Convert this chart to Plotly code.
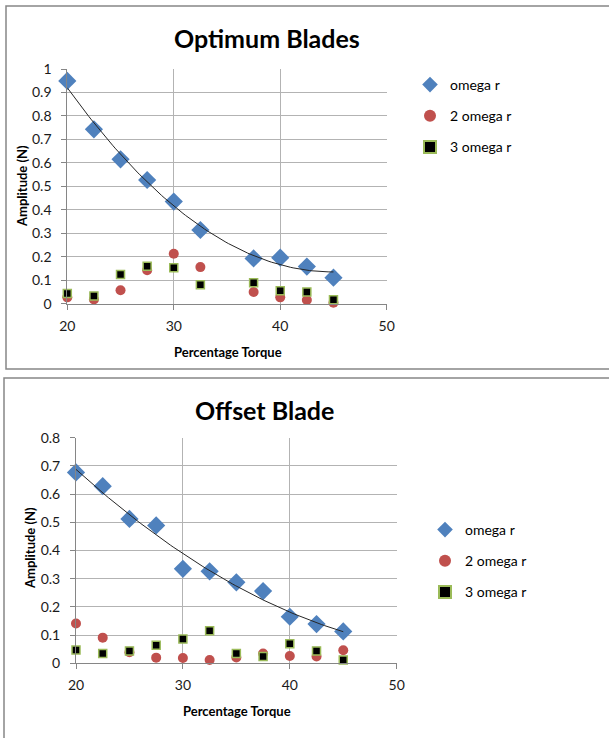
import numpy as np
import plotly.graph_objects as go

W, H = 609, 738

# ---- Data: Optimum Blades ----
opt_x = [20, 22.5, 25, 27.5, 30, 32.5, 37.5, 40, 42.5, 45]
opt_omega = [0.949, 0.743, 0.615, 0.527, 0.435, 0.314, 0.193, 0.196, 0.158, 0.111]
opt_2omega = [0.027, 0.018, 0.057, 0.143, 0.213, 0.156, 0.050, 0.027, 0.016, 0.004]
opt_3omega = [0.043, 0.033, 0.124, 0.160, 0.153, 0.081, 0.089, 0.055, 0.050, 0.017]

# ---- Data: Offset Blade ----
off_x = [20, 22.5, 25, 27.5, 30, 32.5, 35, 37.5, 40, 42.5, 45]
off_omega = [0.677, 0.628, 0.512, 0.489, 0.335, 0.326, 0.287, 0.256, 0.165, 0.139, 0.113]
off_2omega = [0.141, 0.091, 0.039, 0.020, 0.019, 0.012, 0.021, 0.035, 0.026, 0.024, 0.046]
off_3omega = [0.047, 0.035, 0.044, 0.064, 0.086, 0.115, 0.035, 0.024, 0.069, 0.044, 0.012]

series_names = ["omega r", "2 omega r", "3 omega r"]
x_ticks = [20, 30, 40, 50]

FONT = "Lato"
BLUE = "#4f81bd"
RED = "#c0504d"
GREEN = "#9bbb59"
GRID = "#b3b3b3"
AXIS = "#868686"


def px_x(p):
    return p / W


def px_y(p):
    return 1 - p / H


fig = go.Figure()


def add_chart(xs, ys_list, xa, ya, legend):
    sym = [
        dict(symbol="diamond", size=14, color=BLUE),
        dict(symbol="circle", size=10, color=RED),
        dict(symbol="square", size=8, color="black", line=dict(color=GREEN, width=1.5)),
    ]
    for i, (name, ys) in enumerate(zip(series_names, ys_list)):
        fig.add_trace(go.Scatter(
            x=xs, y=ys, mode="markers", name=name, marker=sym[i],
            xaxis=xa, yaxis=ya, legend=legend, legendgroup=legend + str(i),
            cliponaxis=False,
        ))
    # polynomial (order 2) trendline through omega r
    c = np.polyfit(xs, ys_list[0], 2)
    tx = np.linspace(min(xs), max(xs), 100)
    fig.add_trace(go.Scatter(
        x=tx, y=np.polyval(c, tx), mode="lines",
        line=dict(color="#262626", width=1), showlegend=False,
        xaxis=xa, yaxis=ya, hoverinfo="skip", cliponaxis=False,
    ))


add_chart(opt_x, [opt_omega, opt_2omega, opt_3omega], "x", "y", "legend")
add_chart(off_x, [off_omega, off_2omega, off_3omega], "x2", "y2", "legend2")

axis_common = dict(
    showgrid=True, gridcolor=GRID, gridwidth=1,
    showline=True, linecolor=AXIS, linewidth=1,
    ticks="outside", ticklen=5, tickcolor=AXIS,
    tickfont=dict(family=FONT, size=14, color="#1a1a1a"),
    zeroline=False, fixedrange=True, automargin=False,
)

xcommon = dict(axis_common, range=[20, 50], tickvals=x_ticks, ticklabelstandoff=4)

fig.update_layout(
    width=W, height=H,
    margin=dict(l=0, r=0, t=0, b=0, autoexpand=False),
    paper_bgcolor="white", plot_bgcolor="white",
    font=dict(family=FONT, color="black"),
    xaxis=dict(xcommon, domain=[px_x(67.3), px_x(386.7)], anchor="y"),
    yaxis=dict(axis_common, range=[0, 1], dtick=0.1, domain=[px_y(303.7), px_y(69)],
               anchor="x", ticklabelstandoff=7, tickformat="~g"),
    xaxis2=dict(xcommon, domain=[px_x(76), px_x(396.7)], anchor="y2"),
    yaxis2=dict(axis_common, range=[0, 0.8], dtick=0.1, domain=[px_y(663.3), px_y(437.7)],
                anchor="x2", ticklabelstandoff=7, tickformat="~g"),
    legend=dict(x=px_x(410), y=px_y(69), xanchor="left", yanchor="top",
                font=dict(family=FONT, size=14), tracegroupgap=10, itemwidth=30,
                itemsizing="constant", bgcolor="rgba(0,0,0,0)"),
    legend2=dict(x=px_x(425), y=px_y(514), xanchor="left", yanchor="top",
                 font=dict(family=FONT, size=14), tracegroupgap=10, itemwidth=30,
                 itemsizing="constant", bgcolor="rgba(0,0,0,0)"),
    showlegend=True,
)

# chart frames
fig.add_shape(type="rect", xref="paper", yref="paper",
              x0=px_x(6), x1=px_x(640), y0=px_y(369), y1=px_y(6),
              line=dict(color=AXIS, width=1.5), layer="below")
fig.add_shape(type="rect", xref="paper", yref="paper",
              x0=px_x(4), x1=px_x(640), y0=px_y(760), y1=px_y(378),
              line=dict(color=AXIS, width=1.5), layer="below")

ann = [
    dict(text="<b>Optimum Blades</b>", x=px_x(267), y=px_y(38), size=25),
    dict(text="<b>Offset Blade</b>", x=px_x(264), y=px_y(410), size=25),
    dict(text="<b>Percentage Torque</b>", x=px_x(228), y=px_y(352), size=13),
    dict(text="<b>Percentage Torque</b>", x=px_x(237), y=px_y(711), size=13),
]
for a in ann:
    fig.add_annotation(text=a["text"], x=a["x"], y=a["y"], xref="paper", yref="paper",
                       showarrow=False, xanchor="center", yanchor="middle",
                       font=dict(family=FONT, size=a["size"], color="black"))
for xp, yp in [(22, 186), (30, 548)]:
    fig.add_annotation(text="<b>Amplitude (N)</b>", x=px_x(xp), y=px_y(yp),
                       xref="paper", yref="paper", showarrow=False, textangle=-90,
                       xanchor="center", yanchor="middle",
                       font=dict(family=FONT, size=13, color="black"))

fig.write_html("out.html", config={"displayModeBar": False},
               post_script="document.body.style.margin='0';document.body.style.overflow='hidden';")
